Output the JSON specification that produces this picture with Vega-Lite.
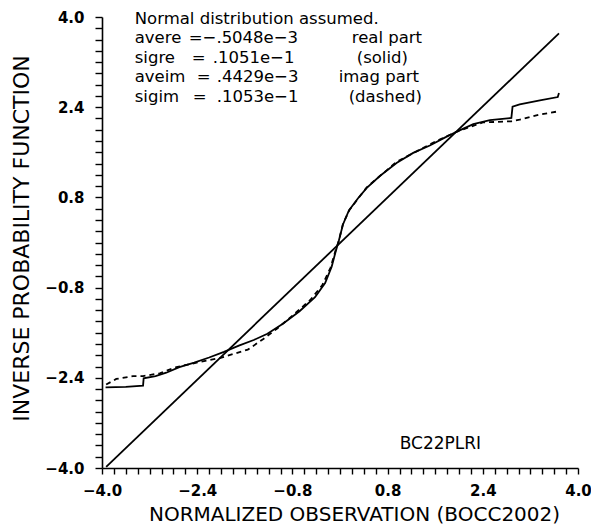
{
  "$schema": "https://vega.github.io/schema/vega-lite/v6.json",
  "width": 476,
  "height": 451,
  "autosize": {"type": "none"},
  "padding": {"left": 102, "top": 17, "right": 13, "bottom": 61},
  "background": "white",
  "config": {
    "view": {"stroke": null},
    "font": "DejaVu Sans",
    "axis": {
      "domainColor": "black",
      "domainWidth": 1.6,
      "tickColor": "black",
      "tickWidth": 1.4,
      "labelColor": "black",
      "titleColor": "black",
      "grid": false,
      "labelFont": "DejaVu Sans",
      "titleFont": "DejaVu Sans",
      "titleFontWeight": "normal"
    }
  },
  "datasets": {
    "diag": [
      {"i": 0, "x": -3.93, "y": -3.98},
      {"i": 1, "x": 3.68, "y": 3.71}
    ],
    "real": [
      {"i": 0, "x": -3.94, "y": -2.57},
      {"i": 1, "x": -3.6, "y": -2.56},
      {"i": 2, "x": -3.31, "y": -2.54},
      {"i": 3, "x": -3.3, "y": -2.41},
      {"i": 4, "x": -3.1, "y": -2.37},
      {"i": 5, "x": -2.92, "y": -2.31},
      {"i": 6, "x": -2.7, "y": -2.21},
      {"i": 7, "x": -2.45, "y": -2.13},
      {"i": 8, "x": -2.2, "y": -2.04},
      {"i": 9, "x": -1.95, "y": -1.94},
      {"i": 10, "x": -1.7, "y": -1.83},
      {"i": 11, "x": -1.45, "y": -1.73},
      {"i": 12, "x": -1.22, "y": -1.62},
      {"i": 13, "x": -0.96, "y": -1.44},
      {"i": 14, "x": -0.68, "y": -1.22},
      {"i": 15, "x": -0.42, "y": -0.97},
      {"i": 16, "x": -0.25, "y": -0.72},
      {"i": 17, "x": -0.14, "y": -0.43},
      {"i": 18, "x": -0.07, "y": -0.15},
      {"i": 19, "x": -0.02, "y": 0.03},
      {"i": 20, "x": 0.05, "y": 0.32},
      {"i": 21, "x": 0.15, "y": 0.57},
      {"i": 22, "x": 0.3, "y": 0.78},
      {"i": 23, "x": 0.45, "y": 0.97},
      {"i": 24, "x": 0.67, "y": 1.18},
      {"i": 25, "x": 0.95, "y": 1.41},
      {"i": 26, "x": 1.23, "y": 1.59},
      {"i": 27, "x": 1.51, "y": 1.72},
      {"i": 28, "x": 1.76, "y": 1.86},
      {"i": 29, "x": 2.01, "y": 1.99},
      {"i": 30, "x": 2.24, "y": 2.1},
      {"i": 31, "x": 2.52, "y": 2.17},
      {"i": 32, "x": 2.88, "y": 2.21},
      {"i": 33, "x": 2.9, "y": 2.41},
      {"i": 34, "x": 3.02, "y": 2.45},
      {"i": 35, "x": 3.36, "y": 2.52},
      {"i": 36, "x": 3.66, "y": 2.58},
      {"i": 37, "x": 3.68, "y": 2.65}
    ],
    "imag": [
      {"i": 0, "x": -3.93, "y": -2.52},
      {"i": 1, "x": -3.76, "y": -2.42},
      {"i": 2, "x": -3.48, "y": -2.37},
      {"i": 3, "x": -3.31, "y": -2.37},
      {"i": 4, "x": -3.03, "y": -2.32},
      {"i": 5, "x": -2.75, "y": -2.21},
      {"i": 6, "x": -2.36, "y": -2.12},
      {"i": 7, "x": -2.02, "y": -2.05},
      {"i": 8, "x": -1.8, "y": -1.98},
      {"i": 9, "x": -1.55, "y": -1.9},
      {"i": 10, "x": -1.3, "y": -1.72},
      {"i": 11, "x": -1.05, "y": -1.52},
      {"i": 12, "x": -0.78, "y": -1.28},
      {"i": 13, "x": -0.5, "y": -1.02},
      {"i": 14, "x": -0.3, "y": -0.76},
      {"i": 15, "x": -0.16, "y": -0.45},
      {"i": 16, "x": -0.08, "y": -0.16},
      {"i": 17, "x": -0.02, "y": 0.03},
      {"i": 18, "x": 0.05, "y": 0.33},
      {"i": 19, "x": 0.16, "y": 0.58},
      {"i": 20, "x": 0.45, "y": 0.98},
      {"i": 21, "x": 0.95, "y": 1.43},
      {"i": 22, "x": 1.51, "y": 1.74},
      {"i": 23, "x": 1.8, "y": 1.89},
      {"i": 24, "x": 2.05, "y": 2.0},
      {"i": 25, "x": 2.4, "y": 2.13},
      {"i": 26, "x": 2.88, "y": 2.15},
      {"i": 27, "x": 3.02, "y": 2.18},
      {"i": 28, "x": 3.36, "y": 2.27},
      {"i": 29, "x": 3.69, "y": 2.33}
    ],
    "notes": [
      {"x": -3.45, "y": 3.97, "label": "Normal distribution assumed."},
      {"x": -3.45, "y": 3.624, "label": "avere"},
      {"x": -2.54, "y": 3.624, "label": "="},
      {"x": -2.31, "y": 3.624, "label": "−.5048e−3"},
      {"x": 0.197, "y": 3.624, "label": "real part"},
      {"x": -3.45, "y": 3.278, "label": "sigre"},
      {"x": -2.492, "y": 3.278, "label": "="},
      {"x": -2.139, "y": 3.278, "label": ".1051e−1"},
      {"x": 0.281, "y": 3.278, "label": "(solid)"},
      {"x": -3.45, "y": 2.933, "label": "aveim"},
      {"x": -2.408, "y": 2.933, "label": "="},
      {"x": -2.072, "y": 2.933, "label": ".4429e−3"},
      {"x": -0.022, "y": 2.933, "label": "imag part"},
      {"x": -3.45, "y": 2.587, "label": "sigim"},
      {"x": -2.476, "y": 2.587, "label": "="},
      {"x": -2.072, "y": 2.587, "label": ".1053e−1"},
      {"x": 0.146, "y": 2.587, "label": "(dashed)"}
    ],
    "tag": [
      {"x": 1.003, "y": -3.566, "label": "BC22PLRI"}
    ]
  },
  "encoding": {
    "x": {
      "field": "x",
      "type": "quantitative",
      "scale": {"domain": [-4, 4], "nice": false, "zero": false},
      "axis": {
        "title": "NORMALIZED OBSERVATION (BOCC2002)",
        "values": [-4,-3.8,-3.6,-3.4,-3.2,-3,-2.8,-2.6,-2.4,-2.2,-2,-1.8,-1.6,-1.4,-1.2,-1,-0.8,-0.6,-0.4,-0.2,0,0.2,0.4,0.6,0.8,1,1.2,1.4,1.6,1.8,2,2.2,2.4,2.6,2.8,3,3.2,3.4,3.6,3.8,4],
        "labelExpr": "abs((datum.value + 4) / 1.6 - round((datum.value + 4) / 1.6)) < 0.01 ? format(datum.value, '.1f') : ''",
        "labelOverlap": false,
        "labelFlush": false,
        "labelBound": false,
        "tickSize": 6,
        "labelPadding": 9,
        "labelFontSize": 15,
        "labelFontWeight": "bold",
        "titleFontSize": 20,
        "titleX": 252,
        "titleY": 46,
        "titleBaseline": "middle",
        "titleAlign": "center"
      }
    },
    "y": {
      "field": "y",
      "type": "quantitative",
      "scale": {"domain": [-4, 4], "nice": false, "zero": false},
      "axis": {
        "title": "INVERSE PROBABILITY FUNCTION",
        "values": [-4,-3.8,-3.6,-3.4,-3.2,-3,-2.8,-2.6,-2.4,-2.2,-2,-1.8,-1.6,-1.4,-1.2,-1,-0.8,-0.6,-0.4,-0.2,0,0.2,0.4,0.6,0.8,1,1.2,1.4,1.6,1.8,2,2.2,2.4,2.6,2.8,3,3.2,3.4,3.6,3.8,4],
        "labelExpr": "abs((datum.value + 4) / 1.6 - round((datum.value + 4) / 1.6)) < 0.01 ? format(datum.value, '.1f') : ''",
        "labelOverlap": false,
        "labelFlush": false,
        "labelBound": false,
        "tickSize": 7,
        "labelPadding": 11,
        "labelFontSize": 15,
        "labelFontWeight": "bold",
        "titleFontSize": 22,
        "titleX": -81,
        "titleY": 221,
        "titleAngle": -90,
        "titleBaseline": "middle",
        "titleAlign": "center"
      }
    }
  },
  "layer": [
    {
      "data": {"name": "diag"},
      "mark": {"type": "line", "color": "black", "strokeWidth": 1.8},
      "encoding": {"order": {"field": "i", "type": "quantitative"}}
    },
    {
      "data": {"name": "real"},
      "mark": {"type": "line", "color": "black", "strokeWidth": 1.8},
      "encoding": {"order": {"field": "i", "type": "quantitative"}}
    },
    {
      "data": {"name": "imag"},
      "mark": {"type": "line", "color": "black", "strokeWidth": 1.8, "strokeDash": [5, 4]},
      "encoding": {"order": {"field": "i", "type": "quantitative"}}
    },
    {
      "data": {"name": "notes"},
      "mark": {"type": "text", "align": "left", "baseline": "middle", "fontSize": 16.5, "font": "DejaVu Sans", "color": "black"},
      "encoding": {"text": {"field": "label", "type": "nominal"}}
    },
    {
      "data": {"name": "tag"},
      "mark": {"type": "text", "align": "left", "baseline": "middle", "fontSize": 17, "font": "DejaVu Sans", "color": "black"},
      "encoding": {"text": {"field": "label", "type": "nominal"}}
    }
  ]
}
